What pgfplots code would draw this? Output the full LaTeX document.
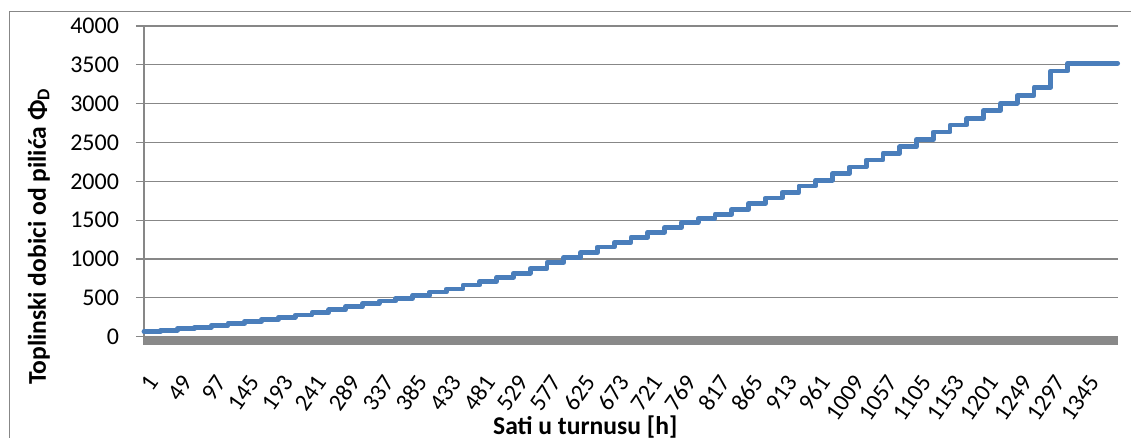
\documentclass[border=0pt]{standalone}
\usepackage{fontspec}
\setmainfont{Carlito}
\usepackage{pgfplots}
\pgfplotsset{compat=1.18}
\definecolor{serie}{HTML}{4A7EBB}
\definecolor{gridc}{HTML}{878787}
\definecolor{band}{HTML}{898989}
\newcommand{\fs}{\fontsize{12}{14.4}\selectfont}
\newcommand{\fl}{\fontsize{12.8}{15.4}\selectfont}
\begin{document}
\begin{tikzpicture}
\useasboundingbox (0pt,0pt) rectangle (565.5pt,219pt);
% chart area border (right and bottom edges fall outside the picture)
\draw[gridc, line width=0.6pt] (4.65pt,-5pt) -- (4.65pt,213.2pt) -- (570pt,213.2pt);
\begin{axis}[
    at={(72pt,46.5pt)}, anchor=south west,
    width=487pt, height=159.5pt, scale only axis,
    xmin=0.5, xmax=1392.5, ymin=-107, ymax=4000,
    axis lines*=left,
    x axis line style={draw=none},
    y axis line style={gridc, line width=0.6pt},
    ytick={0,500,...,4000},
    ymajorgrids,
    major grid style={gridc, line width=0.6pt},
    tick align=outside,
    major tick length=4pt,
    ytick style={gridc, line width=0.6pt},
    xtick={1,49,...,1345},
    xtick style={draw=none},
    /pgf/number format/assume math mode=true,
    /pgf/number format/1000 sep={},
    yticklabel={\fs\pgfmathprintnumber{\tick}},
    xticklabel={\fs\pgfmathprintnumber{\tick}},
    yticklabel style={xshift=-5pt},
    xticklabel style={xshift=5.3pt, yshift=-11.5pt, rotate=55, anchor=east, inner sep=1pt},
    xlabel={\fl\bfseries Sati u turnusu [h]},
    ylabel={\fl\bfseries Toplinski dobici od pilića Φ\textsubscript{D}},
    xlabel style={at={(axis description cs:0.453,0)}, anchor=center, yshift=-41pt},
    ylabel style={at={(axis description cs:-0.108,0.34)}, anchor=center, rotate=0},
    clip=false,
]
\fill[band] (axis cs:0.5,-107) rectangle (axis cs:1392.5,0);
\addplot[const plot, serie, line width=2.4pt, line cap=round, line join=round]
coordinates {
(0.5,64) (24.5,84) (48.5,102) (72.5,122) (96.5,145) (120.5,170)
(144.5,196) (168.5,222) (192.5,250) (216.5,278) (240.5,308) (264.5,345)
(288.5,385) (312.5,425) (336.5,460) (360.5,495) (384.5,535) (408.5,575)
(432.5,615) (456.5,665) (480.5,712) (504.5,765) (528.5,818) (552.5,878)
(576.5,955) (600.5,1020) (624.5,1085) (648.5,1155) (672.5,1215) (696.5,1280)
(720.5,1345) (744.5,1405) (768.5,1470) (792.5,1525) (816.5,1575) (840.5,1640)
(864.5,1715) (888.5,1785) (912.5,1860) (936.5,1940) (960.5,2015) (984.5,2100)
(1008.5,2185) (1032.5,2275) (1056.5,2360) (1080.5,2445) (1104.5,2540) (1128.5,2635)
(1152.5,2725) (1176.5,2812) (1200.5,2910) (1224.5,3005) (1248.5,3105) (1272.5,3210)
(1296.5,3420) (1320.5,3520) (1344.5,3520) (1368.5,3520) (1392,3520)
};
\end{axis}
\end{tikzpicture}
\end{document}
